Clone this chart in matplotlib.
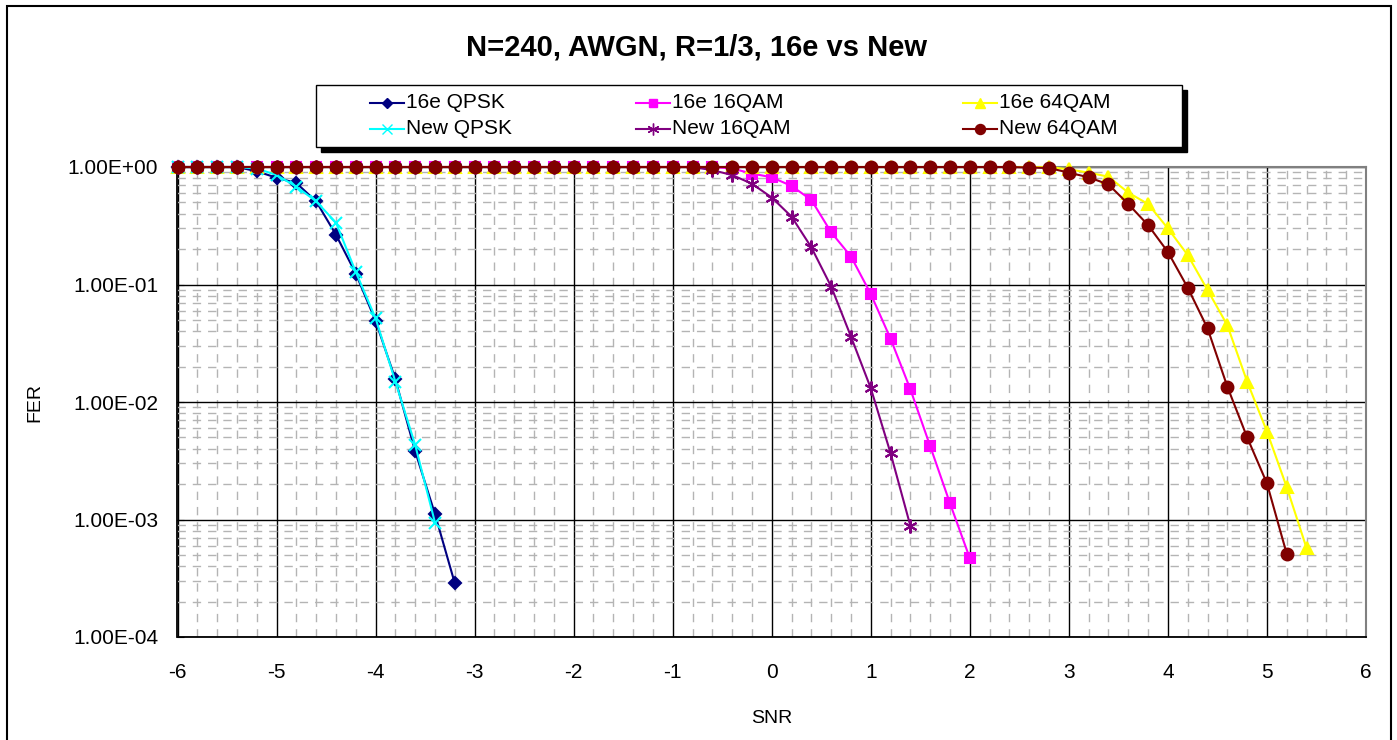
import numpy as np
import matplotlib
matplotlib.use("Agg")
import matplotlib.pyplot as plt
from matplotlib.ticker import MultipleLocator, LogLocator, NullFormatter
from matplotlib.lines import Line2D
from matplotlib.patches import Rectangle

plt.rcParams['font.family'] = ['Liberation Sans', 'DejaVu Sans']

# SNR grid, 0.2 dB steps
snr = np.round(np.arange(-6.0, 5.5, 0.2), 1)

fer_16e_qpsk = [1.0, 1.0, 1.0, 1.0, 0.92, 0.81, 0.73, 0.51, 0.265, 0.124, 0.049,
                0.0156, 0.0038, 0.00111, 0.000286]
fer_new_qpsk = [1.0, 1.0, 1.0, 1.0, 0.97, 0.855, 0.68, 0.51, 0.336, 0.128, 0.0516,
                0.0149, 0.0043, 0.00094]
fer_16e_16qam = [1.0] * 27 + [1.0, 0.97, 0.88, 0.817, 0.69, 0.524, 0.278, 0.173,
                              0.083, 0.0345, 0.0128, 0.0042, 0.00137, 0.000468]
fer_new_16qam = [1.0] * 27 + [0.94, 0.855, 0.72, 0.55, 0.378, 0.207, 0.096, 0.036,
                              0.0131, 0.00366, 0.00088]
fer_16e_64qam = [1.0] * 45 + [0.955, 0.895, 0.827, 0.605, 0.484, 0.30, 0.178, 0.0898,
                              0.045, 0.0149, 0.0056, 0.00188, 0.00057]
fer_new_64qam = [1.0] * 43 + [0.99, 0.98, 0.895, 0.817, 0.71, 0.484, 0.32, 0.189,
                              0.094, 0.0424, 0.0135, 0.005, 0.00203, 0.000508]

series = [
    ("16e QPSK", fer_16e_qpsk, "#000080", "D", 6),
    ("16e 16QAM", fer_16e_16qam, "#FF00FF", "s", 7.5),
    ("16e 64QAM", fer_16e_64qam, "#FFFF00", "^", 9),
    ("New QPSK", fer_new_qpsk, "#00FFFF", "x", 8),
    ("New 16QAM", fer_new_16qam, "#800080", (6, 2, 0), 10),
    ("New 64QAM", fer_new_64qam, "#800000", "o", 8.5),
]

yticks = [1e-4, 1e-3, 1e-2, 1e-1, 1e0]
ytick_labels = ["1.00E-04", "1.00E-03", "1.00E-02", "1.00E-01", "1.00E+00"]
xticks = list(range(-6, 7))

W, H = 1397, 740
fig = plt.figure(figsize=(W / 100, H / 100), dpi=100)
ax = fig.add_axes([177.5 / W, 1 - 637 / H, (1366 - 177.5) / W, (637 - 167) / H])

for name, vals, col, mk, ms in series:
    ax.plot(snr[:len(vals)], vals, color=col, lw=1.5, marker=mk, ms=ms,
            mec=col, mfc=col, mew=1.5, clip_on=False, zorder=3)

ax.set_yscale("log")
ax.set_xlim(-6, 6)
ax.set_ylim(1e-4, 1)
ax.set_xticks(xticks)
ax.set_xticklabels([str(t) for t in xticks])
ax.set_yticks(yticks)
ax.set_yticklabels(ytick_labels)
ax.xaxis.set_minor_locator(MultipleLocator(0.2))
ax.yaxis.set_minor_locator(LogLocator(base=10, subs=np.arange(2, 10)))
ax.yaxis.set_minor_formatter(NullFormatter())

ax.grid(which="major", color="black", lw=1, ls="-")
ax.grid(which="minor", color="#b4b4b4", lw=1, ls=(0, (6, 5)))
ax.set_axisbelow(True)

ax.tick_params(axis="x", which="major", length=0, pad=19, labelsize=15)
ax.tick_params(axis="y", which="major", length=5, direction="in", pad=14, labelsize=15)
ax.tick_params(which="minor", length=0)

for s in ["left", "bottom"]:
    ax.spines[s].set_color("black")
    ax.spines[s].set_linewidth(1.3)
for s in ["top", "right"]:
    ax.spines[s].set_color("#808080")
    ax.spines[s].set_linewidth(1.5)

ax.set_xlabel("SNR", fontsize=14)
ax.set_ylabel("FER", fontsize=14)
ax.xaxis.set_label_coords(0.5, (637 - 710) / 470)
ax.yaxis.set_label_coords((43 - 177.5) / (1366 - 177.5), 0.5)

fig.text(697 / W, 1 - 47 / H, "N=240, AWGN, R=1/3, 16e vs New", ha="center",
         va="center", fontsize=21, fontweight="bold")

# outer chart frame
fig.patches.append(Rectangle((7 / W, -0.05), (1391 - 7) / W, 1.05 - 6 / H,
                             transform=fig.transFigure, fill=False,
                             edgecolor="black", lw=1.5))

# legend box with black shadow
lx0, lx1, ly0, ly1 = 316, 1182, 85, 147
fig.patches.append(Rectangle(((lx0 + 5) / W, 1 - (ly1 + 5) / H), (lx1 - lx0) / W,
                             (ly1 - ly0) / H, transform=fig.transFigure,
                             facecolor="black", edgecolor="black", zorder=5))
fig.patches.append(Rectangle((lx0 / W, 1 - ly1 / H), (lx1 - lx0) / W,
                             (ly1 - ly0) / H, transform=fig.transFigure,
                             facecolor="white", edgecolor="black", lw=1, zorder=6))

col_x = [370, 636, 963]
row_y = [103, 129]
for i, (name, vals, col, mk, ms) in enumerate(series):
    hx = col_x[i % 3]
    hy = 1 - row_y[i // 3] / H
    fig.add_artist(Line2D([hx / W, (hx + 17) / W, (hx + 34) / W], [hy, hy, hy],
                          transform=fig.transFigure, color=col, lw=1.5, marker=mk,
                          ms=ms * 0.85, mec=col, mfc=col, markevery=[1], zorder=7))
    fig.text((hx + 36) / W, hy, name, ha="left", va="center", fontsize=15, zorder=7)

fig.savefig("out.png", dpi=100)
